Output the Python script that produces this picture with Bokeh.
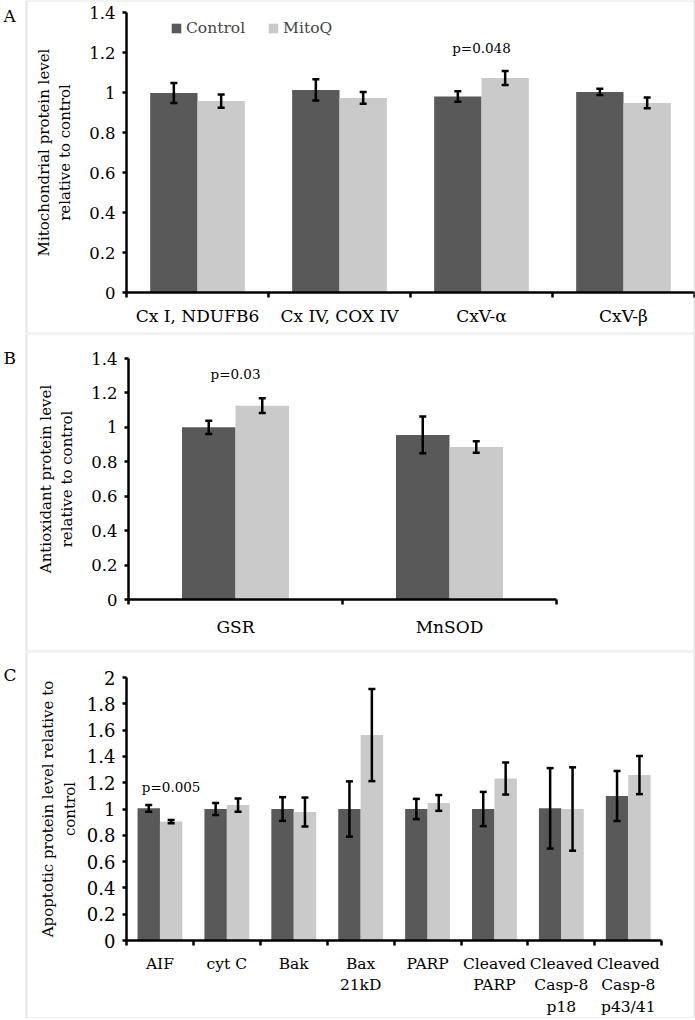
from bokeh.plotting import figure
from bokeh.layouts import column
from bokeh.models import (LinearAxis, FixedTicker, CustomJSTickFormatter, Whisker, TeeHead,
                          ColumnDataSource, Label, Legend, LegendItem, Range1d, BoxAnnotation)
from bokeh.embed import file_html
from bokeh.resources import INLINE
from bokeh.core.properties import value

# ---------------- data ----------------
a_categories = ["Cx I, NDUFB6", "Cx IV, COX IV", "CxV-\u03b1", "CxV-\u03b2"]
a_control = [0.998, 1.013, 0.980, 1.003]
a_control_err = [0.050, 0.053, 0.026, 0.016]
a_mitoq = [0.957, 0.973, 1.073, 0.948]
a_mitoq_err = [0.033, 0.029, 0.035, 0.027]

b_categories = ["GSR", "MnSOD"]
b_control = [1.000, 0.956]
b_control_err = [0.038, 0.107]
b_mitoq = [1.126, 0.886]
b_mitoq_err = [0.043, 0.034]

c_categories = ["AIF", "cyt C", "Bak", "Bax\n21kD", "PARP", "Cleaved\nPARP",
                "Cleaved\nCasp-8\np18", "Cleaved\nCasp-8\np43/41"]
c_control = [1.005, 1.000, 1.000, 1.000, 1.000, 1.000, 1.005, 1.099]
c_control_err = [0.025, 0.045, 0.090, 0.210, 0.077, 0.130, 0.306, 0.190]
c_mitoq = [0.904, 1.030, 0.977, 1.562, 1.046, 1.232, 1.000, 1.258]
c_mitoq_err = [0.012, 0.050, 0.110, 0.350, 0.060, 0.122, 0.317, 0.145]

series_names = ["Control", "MitoQ"]
a_ticks = [0, 0.2, 0.4, 0.6, 0.8, 1, 1.2, 1.4]
b_ticks = [0, 0.2, 0.4, 0.6, 0.8, 1, 1.2, 1.4]
c_ticks = [0, 0.2, 0.4, 0.6, 0.8, 1, 1.2, 1.4, 1.6, 1.8, 2]

# p-value annotations: (category index, series index or None for group centre, text)
a_pvals = [(2, None, "p=0.048")]
b_pvals = [(0, None, "p=0.03")]
c_pvals = [(0, 1, "p=0.005")]

# ---------------- style ----------------
FONT = "DejaVu Serif"
CTRL = "#595959"
MITO = "#cacaca"
BORDER = "#a6a6a6"
W = 695
BOX_LEFT = 26
BOX_RIGHT = 694


def panel(letter, cats, ctrl, ctrl_err, mito, mito_err, ticks, ylab, pvals,
          height, axis_px, cat_w, top_px, zero_px, bw, tick_fs, cat_fs,
          cat_standoff, ylab_standoff, pval_y, letter_top, legend=False):
    n = len(cats)
    ymax = ticks[-1]
    ppu = (zero_px - top_px) / ymax
    x0 = -axis_px / cat_w
    x1 = (W - axis_px) / cat_w
    y1 = ymax + top_px / ppu
    y0 = -(height - zero_px) / ppu

    p = figure(width=W, height=height, output_backend="svg", toolbar_location=None,
               x_range=Range1d(x0, x1), y_range=Range1d(y0, y1),
               x_axis_location=None, y_axis_location=None,
               min_border_left=0, min_border_right=0, min_border_top=0,
               min_border_bottom=0)
    p.grid.visible = False
    p.outline_line_color = None
    p.background_fill_color = "white"
    p.border_fill_color = "white"

    # panel frame
    p.add_layout(BoxAnnotation(left=x0 + BOX_LEFT / cat_w, right=x0 + BOX_RIGHT / cat_w,
                               top=y1, bottom=y0, fill_color=None, fill_alpha=0,
                               line_color=BORDER, line_width=2))

    xs = [i + 0.5 for i in range(n)]
    xc = [x - bw / 2 for x in xs]
    xm = [x + bw / 2 for x in xs]
    r1 = p.vbar(x=xc, top=ctrl, width=bw, bottom=0, fill_color=CTRL, line_color=None)
    r2 = p.vbar(x=xm, top=mito, width=bw, bottom=0, fill_color=MITO, line_color=None)

    for xx, v, e in ((xc, ctrl, ctrl_err), (xm, mito, mito_err)):
        src = ColumnDataSource(dict(x=xx, upper=[a + b for a, b in zip(v, e)],
                                    lower=[a - b for a, b in zip(v, e)]))
        wk = Whisker(source=src, base="x", upper="upper", lower="lower",
                     line_color="black", line_width=2.5, level="annotation",
                     upper_head=TeeHead(size=7, line_width=2.5, line_color="black"),
                     lower_head=TeeHead(size=7, line_width=2.5, line_color="black"))
        p.add_layout(wk)

    # y axis
    ya = LinearAxis(fixed_location=0, bounds=(0, ymax), ticker=FixedTicker(ticks=ticks),
                    formatter=CustomJSTickFormatter(code="return String(Math.round(tick*10)/10)"),
                    axis_label=ylab)
    ya.axis_line_width = 2.5
    ya.major_tick_line_width = 2.5
    ya.major_tick_out = 4
    ya.major_tick_in = 0
    ya.minor_tick_line_color = None
    ya.major_label_standoff = 7
    ya.major_label_text_font = FONT
    ya.major_label_text_font_size = tick_fs
    ya.major_label_text_color = "black"
    ya.axis_label_text_font = FONT
    ya.axis_label_text_font_style = "normal"
    ya.axis_label_text_font_size = "15px"
    ya.axis_label_text_color = "black"
    ya.axis_label_standoff = ylab_standoff
    p.add_layout(ya, "left")

    # x axis: line + boundary ticks
    xa = LinearAxis(fixed_location=0, bounds=(0, n), ticker=FixedTicker(ticks=list(range(n + 1))),
                    formatter=CustomJSTickFormatter(code="return ''"))
    xa.axis_line_width = 2.5
    xa.major_tick_line_width = 2.5
    xa.major_tick_out = 5
    xa.major_tick_in = 0
    xa.minor_tick_line_color = None
    p.add_layout(xa, "below")

    # x axis: category labels at group centres
    xl = LinearAxis(fixed_location=0, ticker=FixedTicker(ticks=xs),
                    formatter=CustomJSTickFormatter(args=dict(labels=cats),
                                                    code="return labels[Math.floor(tick)]"))
    xl.axis_line_color = None
    xl.major_tick_line_color = None
    xl.minor_tick_line_color = None
    xl.major_tick_out = 0
    xl.major_tick_in = 0
    xl.major_label_standoff = cat_standoff
    xl.major_label_text_font = FONT
    xl.major_label_text_font_size = cat_fs
    xl.major_label_text_color = "black"
    p.add_layout(xl, "below")

    # p values
    px, ptxt = [], []
    for ci, si, t in pvals:
        if si is None:
            px.append(ci + 0.5)
        else:
            px.append(ci + 0.5 + (bw / 2 if si == 1 else -bw / 2))
        ptxt.append(t)
    p.text(x=px, y=[pval_y] * len(px), text=ptxt, text_font=value(FONT),
           text_font_size="13.5px", text_align="center", text_baseline="middle",
           text_color="black")

    # panel letter
    p.add_layout(Label(x=x0 + 3 / cat_w, y=y1 - letter_top / ppu, text=letter,
                       text_font=FONT, text_font_size="17px", text_align="left",
                       text_baseline="top", text_color="black"))

    if legend:
        lg = Legend(items=[LegendItem(label=series_names[0], renderers=[r1]),
                           LegendItem(label=series_names[1], renderers=[r2])],
                    location=(170, height - 38), orientation="horizontal")
        lg.border_line_color = None
        lg.background_fill_alpha = 0
        lg.padding = 0
        lg.margin = 0
        lg.spacing = 22
        lg.glyph_width = 12
        lg.glyph_height = 12
        lg.label_standoff = 4
        lg.label_text_font = FONT
        lg.label_text_font_size = "15.5px"
        lg.label_height = 20
        p.add_layout(lg)
    return p


pA = panel("A", a_categories, a_control, a_control_err, a_mitoq, a_mitoq_err, a_ticks,
           "Mitochondrial protein level\nrelative to control", a_pvals,
           height=333, axis_px=126, cat_w=142, top_px=12, zero_px=292, bw=1 / 3,
           tick_fs="16.5px", cat_fs="17px", cat_standoff=13, ylab_standoff=12,
           pval_y=1.225, letter_top=5, legend=True)
pB = panel("B", b_categories, b_control, b_control_err, b_mitoq, b_mitoq_err, b_ticks,
           "Antioxidant protein level\nrelative to control", b_pvals,
           height=318, axis_px=128, cat_w=214, top_px=25, zero_px=266, bw=0.25,
           tick_fs="16.5px", cat_fs="17px", cat_standoff=17, ylab_standoff=12,
           pval_y=1.31, letter_top=14)
pC = panel("C", c_categories, c_control, c_control_err, c_mitoq, c_mitoq_err, c_ticks,
           "Apoptotic protein level relative to\ncontrol", c_pvals,
           height=367, axis_px=126, cat_w=66.9, top_px=26, zero_px=289, bw=0.335,
           tick_fs="18px", cat_fs="15.5px", cat_standoff=14, ylab_standoff=5,
           pval_y=1.17, letter_top=13)

layout = column(pA, pB, pC, spacing=0)
open("out.html", "w").write(file_html(layout, INLINE))
